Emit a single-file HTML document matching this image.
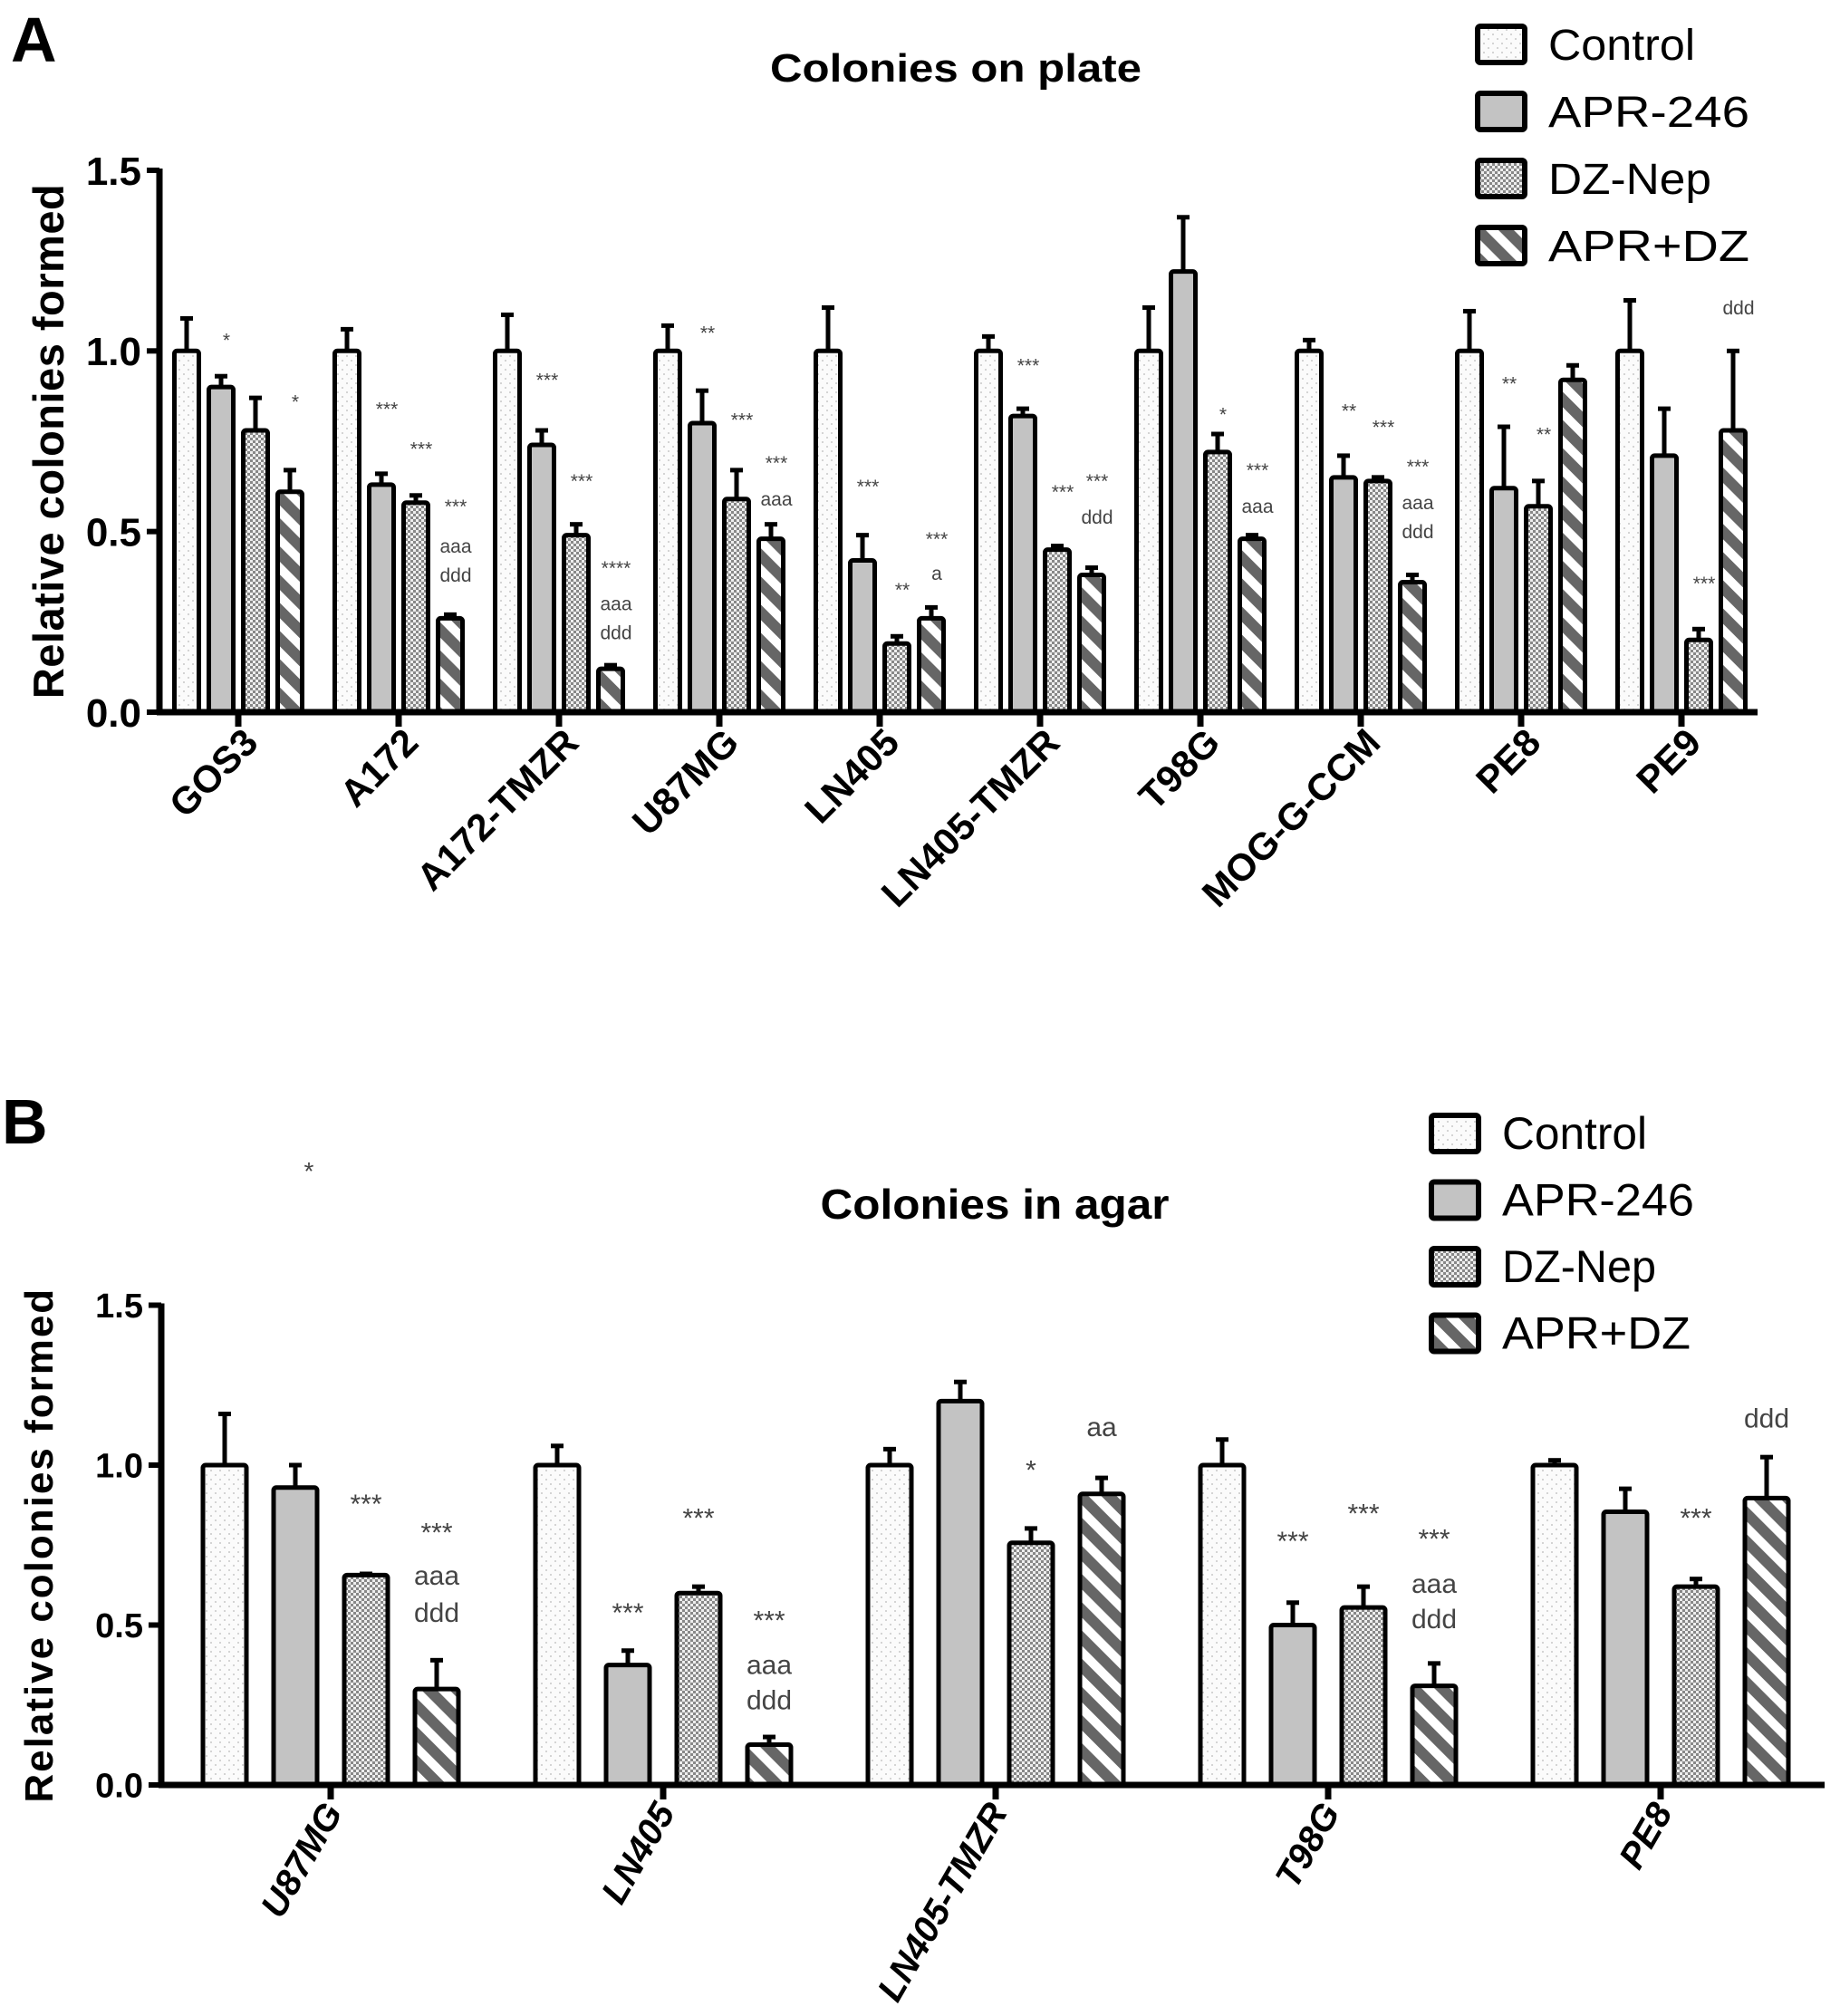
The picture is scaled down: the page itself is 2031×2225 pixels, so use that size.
<!DOCTYPE html>
<html><head><meta charset="utf-8"><style>
html,body{margin:0;padding:0;background:#fff;}
svg{display:block;font-family:"Liberation Sans",sans-serif;}
</style></head><body>
<svg id="fig" width="2031" height="2225" viewBox="0 0 2031 2225" xmlns="http://www.w3.org/2000/svg">
<defs>
<pattern id="pDots" width="10" height="10" patternUnits="userSpaceOnUse"><rect width="10" height="10" fill="#fbfbfb"/><circle cx="3" cy="3" r="1" fill="#c8c8c8"/><circle cx="8" cy="8" r="1" fill="#c8c8c8"/></pattern>
<pattern id="pCheck" width="6" height="6" patternUnits="userSpaceOnUse"><rect width="6" height="6" fill="#888"/><rect width="3" height="3" fill="#eee"/><rect x="3" y="3" width="3" height="3" fill="#eee"/></pattern>
<pattern id="pStripe" width="22" height="22" patternUnits="userSpaceOnUse" patternTransform="rotate(-45)"><rect width="22" height="22" fill="#fff"/><rect width="12" height="22" fill="#666"/></pattern>
</defs>
<g id="panelA"></g>
<g id="panelB"></g>
</svg>
<script>
// ---- shared ----
const seriesNames = ["Control","APR-246","DZ-Nep","APR+DZ"];
const fills = ["url(#pDots)","#c3c3c3","url(#pCheck)","url(#pStripe)"];

// ---- Panel A data ----
const catsA = ["GOS3","A172","A172-TMZR","U87MG","LN405","LN405-TMZR","T98G","MOG-G-CCM","PE8","PE9"];
const controlA = [1,1,1,1,1,1,1,1,1,1];
const aprA = [0.90,0.63,0.74,0.80,0.42,0.82,1.22,0.65,0.62,0.71];
const dzA = [0.78,0.58,0.49,0.59,0.19,0.45,0.72,0.64,0.57,0.20];
const comboA = [0.61,0.26,0.12,0.48,0.26,0.38,0.48,0.36,0.92,0.78];
const controlErrA = [0.09,0.06,0.10,0.07,0.12,0.04,0.12,0.03,0.11,0.14];
const aprErrA = [0.03,0.03,0.04,0.09,0.07,0.02,0.15,0.06,0.17,0.13];
const dzErrA = [0.09,0.02,0.03,0.08,0.02,0.01,0.05,0.01,0.07,0.03];
const comboErrA = [0.06,0.01,0.01,0.04,0.03,0.02,0.01,0.02,0.04,0.22];
const ticksA = ["0.0","0.5","1.0","1.5"];
const annA = [[0,1,"*",1.03],[0,3,"*",0.86],
[1,1,"***",0.84],[1,2,"***",0.73],[1,3,"***",0.57],[1,3,"aaa",0.46],[1,3,"ddd",0.38],
[2,1,"***",0.92],[2,2,"***",0.64],[2,3,"****",0.40],[2,3,"aaa",0.30],[2,3,"ddd",0.22],
[3,1,"**",1.05],[3,2,"***",0.81],[3,3,"***",0.69],[3,3,"aaa",0.59],
[4,1,"***",0.625],[4,2,"**",0.34],[4,3,"***",0.48],[4,3,"a",0.385],
[5,1,"***",0.96],[5,2,"***",0.61],[5,3,"***",0.64],[5,3,"ddd",0.54],
[6,2,"*",0.825],[6,3,"***",0.67],[6,3,"aaa",0.57],
[7,1,"**",0.835],[7,2,"***",0.79],[7,3,"***",0.68],[7,3,"aaa",0.58],[7,3,"ddd",0.50],
[8,1,"**",0.91],[8,2,"**",0.77],
[9,2,"***",0.357],[9,3,"ddd",1.12]];

// ---- Panel B data ----
const catsB = ["U87MG","LN405","LN405-TMZR","T98G","PE8"];
const controlB = [1,1,1,1,1];
const aprB = [0.93,0.375,1.20,0.50,0.854];
const dzB = [0.656,0.60,0.757,0.555,0.62];
const comboB = [0.30,0.126,0.91,0.31,0.897];
const controlErrB = [0.16,0.06,0.05,0.08,0.015];
const aprErrB = [0.07,0.045,0.06,0.07,0.072];
const dzErrB = [0.004,0.02,0.045,0.065,0.024];
const comboErrB = [0.09,0.024,0.05,0.07,0.128];
const ticksB = ["0.0","0.5","1.0","1.5"];
const annB = [[0,2,"***",0.88],[0,3,"***",0.79],[0,3,"aaa",0.656],[0,3,"ddd",0.54],
[1,1,"***",0.54],[1,2,"***",0.835],[1,3,"***",0.515],[1,3,"aaa",0.377],[1,3,"ddd",0.266],
[2,2,"*",0.986],[2,3,"aa",1.12],
[3,1,"***",0.763],[3,2,"***",0.85],[3,3,"***",0.77],[3,3,"aaa",0.63],[3,3,"ddd",0.52],
[4,2,"***",0.835],[4,3,"ddd",1.148]];

const NS="http://www.w3.org/2000/svg";
function mk(parent,tag,attrs,text){const e=document.createElementNS(NS,tag);for(const k in attrs)e.setAttribute(k,attrs[k]);if(text!==undefined)e.textContent=text;parent.appendChild(e);return e;}

function drawPanel(g,cfg){
  const yS=v=>cfg.y0-v*cfg.unit;
  const xG=i=>cfg.gx0+i*cfg.gstep;
  const ya=mk(g,"line",{x1:cfg.ax,y1:yS(1.5)-2,x2:cfg.ax,y2:cfg.y0,stroke:"#000","stroke-width":7});
  
  
  cfg.ticks.forEach(t=>{
    const v=parseFloat(t);
    const tk=mk(g,"line",{x1:cfg.ax-14,y1:yS(v),x2:cfg.ax,y2:yS(v),stroke:"#000","stroke-width":6});
    
    
    const tl=mk(g,"text",{x:cfg.ax-20,y:yS(v)+cfg.tickFont*0.36,"text-anchor":"end","font-size":cfg.tickFont,"font-weight":"bold"},t);
    
    
  });
  const yt=mk(g,"text",{transform:`translate(${cfg.ytx},${yS(0.75)}) rotate(-90)`,"text-anchor":"middle","font-size":cfg.ytFont,"font-weight":"bold","letter-spacing":cfg.ytSpacing},"Relative colonies formed");
  
  
  const series=[cfg.c,cfg.a,cfg.d,cfg.k], errs=[cfg.ce,cfg.ae,cfg.de,cfg.ke];
  cfg.cats.forEach((cat,i)=>{
    const cx=xG(i);
    for(let s=0;s<4;s++){
      const bx=cx+(s-1.5)*cfg.pitch;
      const v=series[s][i], e=errs[s][i];
      const el=mk(g,"line",{x1:bx,y1:yS(v+e),x2:bx,y2:yS(v),stroke:"#000","stroke-width":5});
      
      
      const ec=mk(g,"line",{x1:bx-7,y1:yS(v+e),x2:bx+7,y2:yS(v+e),stroke:"#000","stroke-width":5});
      
      
      const r=mk(g,"rect",{x:bx-cfg.bw/2,y:yS(v),width:cfg.bw,height:yS(0)-yS(v),fill:fills[s],stroke:"#000","stroke-width":5,rx:3});
      
      
    }
    const xt=mk(g,"line",{x1:cx,y1:cfg.y0,x2:cx,y2:cfg.y0+16,stroke:"#000","stroke-width":7});
    
    
    const xl=mk(g,"text",{transform:`translate(${cx+cfg.lblDx},${cfg.y0+cfg.lblDy}) rotate(${cfg.rot})`,"text-anchor":"end","font-size":cfg.xFont,"font-weight":"bold","font-style":cfg.xStyle},cat);
    
    
  });
  const xa=mk(g,"line",{x1:cfg.ax-3,y1:cfg.y0,x2:cfg.axEnd,y2:cfg.y0,stroke:"#000","stroke-width":7});
  
  
  cfg.ann.forEach(a=>{
    const t=mk(g,"text",{x:xG(a[0])+(a[1]-1.5)*cfg.pitch+cfg.annDx,y:yS(a[3])+cfg.annFont*0.35,"text-anchor":"middle","font-size":cfg.annFont,fill:"#444"},a[2]);
    
    
  });
  seriesNames.forEach((n,s)=>{
    const ly=cfg.legY+s*cfg.legStep;
    const b=mk(g,"rect",{x:cfg.legX,y:ly,width:cfg.legW,height:40,fill:fills[s],stroke:"#000","stroke-width":6,rx:3});
    
    
    const t=mk(g,"text",{x:cfg.legX+cfg.legW+26,y:ly+37,"font-size":cfg.legFont,textLength:cfg.legLen[s],lengthAdjust:"spacingAndGlyphs"},n);
    
    
  });
  const ti=mk(g,"text",{x:cfg.titleX,y:cfg.titleY,"text-anchor":"middle","font-size":cfg.titleFont,"font-weight":"bold",textLength:cfg.titleLen,lengthAdjust:"spacingAndGlyphs"},cfg.title);
  
  
  const pl=mk(g,"text",{x:cfg.plX,y:cfg.plY,"font-size":70,"font-weight":"bold"},cfg.panel);
  
  
}

drawPanel(document.getElementById('panelA'),{
  cats:catsA,c:controlA,a:aprA,d:dzA,k:comboA,ce:controlErrA,ae:aprErrA,de:dzErrA,ke:comboErrA,ticks:ticksA,ann:annA,
  y0:786,unit:398.7,ax:176,axEnd:1940,gx0:263,gstep:177,pitch:38,bw:27,
  tickFont:44,ytFont:47,ytx:70,ytSpacing:0.5,xFont:42,xStyle:"normal",rot:-45,lblDx:24,lblDy:36,
  annFont:21,annDx:6,legX:1631,legY:29,legStep:74,legW:52,legFont:48,legLen:[162,222,180,222],
  title:"Colonies on plate",titleX:1055,titleY:90,titleFont:44,titleLen:410,panel:"A",plX:12,plY:68
});
drawPanel(document.getElementById('panelB'),{
  cats:catsB,c:controlB,a:aprB,d:dzB,k:comboB,ce:controlErrB,ae:aprErrB,de:dzErrB,ke:comboErrB,ticks:ticksB,ann:annB,
  y0:1970,unit:353,ax:178,axEnd:2014,gx0:365,gstep:367,pitch:78,bw:48,
  tickFont:38,ytFont:44,ytx:58,ytSpacing:2,xFont:40,xStyle:"italic",rot:-60,lblDx:14,lblDy:30,
  annFont:30,annDx:0,legX:1580,legY:1231,legStep:73.5,legW:52,legFont:50,legLen:[160,212,170,208],
  title:"Colonies in agar",titleX:1098,titleY:1345,titleFont:46,titleLen:385,panel:"B",plX:2,plY:1262
});
const st=mk(document.getElementById('panelB'),"text",{x:341,y:1302,"text-anchor":"middle","font-size":28,fill:"#444"},"*");


</script>
</body></html>
